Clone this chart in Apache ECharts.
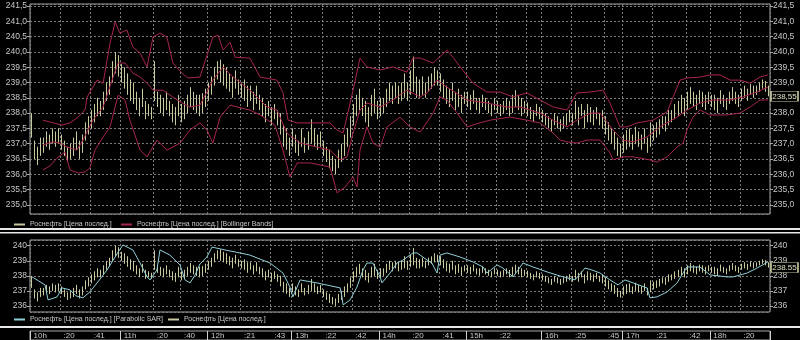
<!DOCTYPE html>
<html><head><meta charset="utf-8">
<script src="https://cdn.jsdelivr.net/npm/echarts@6/dist/echarts.min.js"></script>
<style>html,body{margin:0;padding:0;background:#000;}#c{width:800px;height:340px;}</style>
</head><body><div id="c"></div>
<script>
// ---- data ----
const barLow = [
237.2,236.5,236.3,236.6,236.7,236.9,236.8,237.0,236.9,237.0,
236.8,236.6,236.4,236.5,236.6,236.8,236.5,236.7,237.1,237.3,
237.5,237.7,237.9,237.9,238.1,238.4,238.6,239.0,239.3,239.2,
239.0,238.8,238.6,238.4,238.3,238.1,237.9,238.2,237.8,237.9,
237.8,238.4,238.2,238.0,237.9,238.1,237.9,237.7,237.6,237.9,
237.7,237.8,238.0,238.2,238.1,238.0,237.9,238.0,238.2,238.4,
238.6,238.9,239.1,239.0,238.9,238.8,238.7,238.5,238.8,238.6,
238.5,238.4,238.2,238.4,238.1,238.3,238.1,237.9,237.7,237.9,
237.6,237.8,237.6,237.3,236.9,236.8,236.6,236.9,236.7,236.6,
236.9,236.7,236.8,237.0,236.9,236.8,236.9,236.6,236.4,236.2,
236.1,236.0,236.2,236.4,236.6,236.9,237.2,237.6,237.9,238.1,
237.9,237.7,237.55,237.9,238.0,237.8,237.9,238.0,238.2,238.4,
238.3,238.5,238.3,238.4,238.5,238.4,238.6,238.7,238.5,238.5,
238.6,238.5,238.7,238.8,238.9,238.9,238.7,238.5,238.3,238.2,
238.4,238.1,238.2,238.0,238.3,238.2,238.1,238.3,238.1,238.0,
238.2,238.1,238.0,237.9,238.1,238.0,237.9,238.0,238.1,237.9,
238.0,238.2,238.1,237.9,238.0,237.9,237.8,237.7,237.9,237.8,
237.7,237.6,237.5,237.4,237.6,237.5,237.4,237.5,237.6,237.7,
237.6,237.8,237.6,237.9,237.5,237.7,237.7,237.6,237.8,237.6,
237.5,237.3,237.1,237.0,236.8,236.6,236.55,236.7,236.8,236.9,
236.8,237.0,236.9,236.8,237.0,236.7,236.9,237.1,237.2,237.3,
237.5,237.4,237.6,237.7,237.8,237.9,238.0,237.9,238.1,238.3,
238.2,238.1,238.3,238.2,238.1,238.3,238.2,238.1,238.0,238.3,
238.2,238.1,238.3,238.4,238.3,238.2,238.4,238.5,238.4,238.6,
238.5,238.6,238.7,238.8,238.7,238.55];
const barHigh = [
238.0,237.1,236.9,237.2,237.2,237.4,237.3,237.5,237.4,237.5,
237.3,237.1,236.9,237.0,237.2,237.4,237.1,237.3,237.7,237.9,
238.1,238.3,238.5,238.4,238.7,239.0,239.2,239.7,240.0,239.9,
239.6,239.5,239.3,239.1,239.0,238.7,238.5,238.8,238.4,238.3,
238.2,239.7,238.7,238.6,238.5,238.7,238.4,238.3,238.2,238.6,
238.3,238.4,238.6,238.85,238.7,238.6,238.6,238.65,238.8,239.0,
239.2,239.5,239.7,239.75,239.6,239.5,239.3,239.2,239.4,239.1,
239.0,239.1,238.9,238.9,238.7,238.9,238.6,238.5,238.3,238.4,
238.2,238.3,238.1,238.0,237.6,237.5,237.2,237.5,237.3,237.1,
237.5,237.2,237.4,237.8,237.5,237.3,237.4,237.1,236.9,236.8,
236.6,236.5,236.8,237.0,237.3,237.5,237.9,238.3,238.6,238.8,
238.5,238.4,238.2,238.6,238.8,238.4,238.5,238.5,238.8,239.0,
238.9,239.0,238.9,239.0,239.3,239.0,239.4,239.85,239.2,239.1,
239.2,239.0,239.2,239.3,239.5,239.4,239.3,239.1,238.9,238.8,
239.0,238.7,238.8,238.6,238.7,238.7,238.6,238.75,238.5,238.5,
238.6,238.5,238.4,238.3,238.5,238.4,238.3,238.4,238.5,238.4,
238.6,238.75,238.6,238.5,238.4,238.35,238.2,238.1,238.3,238.2,
238.1,238.0,237.9,237.8,238.0,237.9,237.8,237.9,238.0,238.1,
238.0,238.4,238.2,238.3,238.1,238.3,238.2,238.1,238.2,238.0,
238.1,237.9,237.7,237.5,237.4,237.2,237.0,237.3,237.45,237.5,
237.3,237.55,237.4,237.3,237.5,237.2,237.7,237.6,237.7,237.8,
237.9,237.9,238.1,238.1,238.3,238.4,238.6,238.5,238.7,238.85,
238.7,238.6,238.75,238.7,238.6,238.7,238.6,238.6,238.5,238.75,
238.6,238.5,238.7,238.85,238.7,238.6,238.8,238.9,238.8,238.95,
238.9,238.9,239.0,239.1,239.05,238.9];

// Bollinger bands: [bar position, price]
const bbUpper = [[4.3,237.77],[6.6,237.71],[10.6,237.61],[13.3,237.68],[16.0,237.87],[18.3,238.10],[19.0,238.53],[22.3,239.08],[24.3,238.98],[26.6,240.29],[28.3,240.98],[29.9,240.62],[32.2,240.72],[34.2,240.16],[36.6,239.96],[38.9,239.51],[40.9,240.49],[43.2,240.62],[45.5,240.49],[47.5,239.64],[50.5,239.31],[52.5,239.15],[56.5,239.18],[60.8,240.49],[62.5,240.55],[64.2,240.06],[66.5,240.32],[68.2,239.83],[73.1,239.80],[76.5,239.18],[82.1,239.08],[84.1,238.66],[85.8,237.77],[88.8,237.68],[96.4,237.68],[99.7,237.68],[102.1,237.45],[104.1,237.35],[107.4,238.75],[109.7,239.80],[112.0,239.51],[116.4,239.41],[120.7,239.51],[125.3,239.34],[127.3,239.80],[129.7,239.80],[134.0,239.64],[138.6,240.06],[140.6,239.83],[143.0,239.51],[147.3,238.98],[151.9,238.69],[156.3,238.69],[160.6,238.53],[165.2,238.66],[169.5,238.43],[173.9,238.20],[178.5,238.10],[181.8,238.66],[186.2,238.69],[190.5,238.75],[192.8,238.33],[196.1,237.55],[198.5,237.55],[201.8,237.68],[207.1,237.77],[211.8,238.04],[216.1,239.08],[218.4,239.15],[222.7,239.18],[226.1,239.25],[229.4,239.25],[232.7,239.08],[236.0,239.08],[239.4,238.98],[242.7,239.18],[245.3,239.25]];
const bbMiddle = [[4.3,236.96],[7.6,237.06],[10.0,237.02],[12.3,236.89],[15.6,236.79],[17.6,237.12],[20.9,237.77],[24.3,238.20],[27.3,239.08],[29.3,239.64],[31.6,239.64],[34.2,239.31],[36.6,239.18],[38.9,238.98],[40.9,238.75],[44.2,238.75],[47.5,238.53],[50.5,238.33],[53.2,238.20],[56.5,238.26],[60.8,239.08],[64.2,239.51],[67.5,239.18],[73.1,238.75],[78.8,238.20],[82.1,238.10],[85.4,237.35],[89.8,237.02],[95.4,236.89],[99.7,236.79],[103.1,236.47],[105.4,236.57],[107.4,237.35],[109.7,238.10],[112.0,238.33],[116.4,238.20],[120.7,238.43],[125.3,238.75],[129.7,238.53],[132.0,238.66],[135.3,239.08],[138.6,238.85],[145.3,238.43],[151.9,238.33],[158.6,238.20],[162.9,238.20],[169.5,238.00],[173.9,237.77],[178.5,237.55],[181.8,237.77],[186.2,238.00],[189.5,238.00],[193.8,237.45],[197.1,237.12],[200.5,237.06],[205.1,237.22],[209.4,237.55],[215.1,237.87],[218.4,238.10],[222.7,238.33],[227.1,238.43],[232.7,238.43],[237.0,238.53],[241.7,238.69],[245.3,238.85]];
const bbLower = [[4.3,236.14],[6.6,236.27],[9.0,236.53],[11.6,236.73],[13.3,236.14],[16.0,236.04],[18.3,236.08],[19.9,236.21],[21.6,236.79],[24.3,237.22],[26.6,237.55],[29.3,238.59],[31.6,238.43],[33.2,237.77],[36.6,236.79],[38.9,236.57],[42.2,237.12],[45.5,236.79],[49.9,237.02],[53.2,237.45],[56.5,237.68],[58.8,237.45],[60.8,237.02],[63.2,237.87],[66.5,238.26],[73.1,238.10],[76.5,237.94],[81.4,237.61],[84.1,236.79],[86.4,235.91],[88.8,236.37],[93.1,236.37],[99.7,236.24],[102.1,235.39],[104.7,235.58],[107.4,235.91],[108.7,235.58],[109.7,236.79],[112.0,237.55],[114.0,237.02],[116.4,236.89],[118.7,237.55],[123.0,237.87],[126.3,237.55],[129.7,237.38],[134.0,238.00],[136.3,238.53],[138.6,238.43],[142.0,238.00],[145.3,237.55],[149.6,237.68],[152.9,237.77],[159.6,237.87],[165.2,237.77],[169.5,237.68],[173.9,237.35],[176.2,237.12],[178.5,237.06],[181.8,237.02],[185.2,237.12],[189.5,237.12],[192.8,236.70],[193.8,236.47],[197.1,236.57],[200.5,236.57],[206.1,236.47],[208.4,236.40],[211.8,236.57],[215.1,236.89],[217.1,237.02],[218.4,237.45],[220.4,237.87],[222.7,238.10],[226.1,237.94],[231.7,237.94],[236.0,238.00],[239.4,238.20],[242.7,238.43],[245.3,238.43]];
// Parabolic SAR: [bar position, price]
const sar = [[0.7,237.93],[5.0,237.40],[6.0,236.40],[9.0,236.60],[10.6,237.20],[13.3,237.07],[15.3,236.67],[17.6,236.54],[19.9,236.93],[22.3,237.53],[25.6,238.39],[28.3,239.25],[29.3,239.58],[30.9,240.05],[34.2,239.72],[36.6,238.85],[38.9,237.93],[39.9,237.73],[42.2,238.39],[43.2,239.72],[46.5,239.38],[49.9,238.72],[51.5,237.73],[53.2,237.53],[54.9,238.06],[56.5,238.79],[58.8,239.25],[60.5,239.91],[64.8,239.72],[69.8,239.52],[73.1,239.38],[79.8,238.85],[84.1,238.19],[86.4,237.26],[87.4,236.60],[89.8,237.73],[95.4,237.53],[103.1,237.20],[103.7,236.60],[104.1,236.07],[106.4,236.40],[108.7,237.26],[110.7,238.39],[112.0,238.85],[114.0,238.85],[116.4,237.93],[117.0,237.53],[119.7,238.19],[122.0,238.85],[124.0,239.05],[127.3,239.52],[128.7,239.52],[132.0,239.05],[133.6,238.85],[135.3,238.19],[136.3,239.38],[138.6,239.52],[143.0,239.25],[147.3,238.92],[150.6,238.59],[151.9,238.19],[155.3,238.72],[157.2,238.52],[160.6,237.93],[163.9,238.85],[167.2,238.59],[171.9,238.26],[176.2,237.99],[181.2,237.73],[184.5,238.52],[186.8,238.39],[189.5,238.19],[192.8,237.73],[195.5,237.40],[197.8,237.73],[200.5,237.53],[205.1,237.20],[206.1,236.54],[208.4,236.60],[211.8,236.93],[215.1,237.53],[217.1,238.19],[218.4,238.59],[222.7,238.59],[226.1,238.06],[231.7,237.93],[233.7,237.93],[238.4,238.19],[241.7,238.52],[245.3,238.92]];
const lastPrice = 238.55;
// time axis ticks: bar index where tick sits, and its label
const tickIndex = [0,10,20,30,41,50,59,70,80,87,97,107,116,126,136,145,155,165,170,180,191,197,207,218,226,236];
const tickLabel = ['10h',':20',':41','11h',':20',':40','12h',':21',':43','13h',':22',':42','14h',':20',':41','15h',':22','','16h',':25',':45','17h',':21',':42','18h',':20'];
const seriesName = 'Роснефть [Цена послед.]';
const bbName = 'Роснефть [Цена послед.] [Bollinger Bands]';
const sarName = 'Роснефть [Цена послед.] [Parabolic SAR]';

// ---- build ----
const N = barLow.length;
const cats = [];
for (let i = 0; i < N; i++) { const k = tickIndex.indexOf(i); cats.push(k >= 0 ? tickLabel[k] : ''); }
const isTick = i => tickIndex.indexOf(i) >= 0;
const isHour = i => { const k = tickIndex.indexOf(i); return k >= 0 && /h$/.test(tickLabel[k]); };
const ohlc = barLow.map((l, i) => [l, barHigh[i], l, barHigh[i]]);

const KH = '#c9c9a0', BB = '#a8254f', SARC = '#8fd0d8', GRID = '#7a7a7a', FRAME = '#a8a8a8', TXT = '#c8c8c8';
const FONT = '"Liberation Sans",Arial,sans-serif';
const comma = v => v.toFixed(1).replace('.', ',');

function yAx(gi, pos, mn, mx, split, fmt, spl) {
  return { type: 'value', gridIndex: gi, position: pos, min: mn, max: mx, splitNumber: split, scale: true,
    axisLine: { show: false }, axisTick: { show: true, length: 3, lineStyle: { color: FRAME } },
    axisLabel: { color: TXT, fontSize: 8.5, fontFamily: FONT, margin: 3, formatter: fmt, showMinLabel: false, showMaxLabel: false },
    splitLine: { show: spl, lineStyle: { color: GRID, type: [2, 2], width: 1 } } };
}
function xCat(gi) {
  return { type: 'category', gridIndex: gi, data: cats, boundaryGap: true, axisLine: { show: false }, axisTick: { show: false }, axisLabel: { show: false },
    splitLine: { show: true, interval: isTick, lineStyle: { color: GRID, type: [2, 2], width: 1 } } };
}
function xVal(gi) { return { type: 'value', gridIndex: gi, min: 0, max: N, show: false }; }
function leg(left, top, name) {
  return { left: left, top: top, padding: 0, itemWidth: 11, itemHeight: 2, itemGap: 5, icon: 'rect', data: [name], selectedMode: false,
    itemStyle: { borderWidth: 0 },
    textStyle: { color: TXT, fontSize: 7, fontFamily: FONT, padding: [0, 0, 0, 0] } };
}

const chart = echarts.init(document.getElementById('c'), null, { renderer: 'canvas' });
chart.setOption({
  backgroundColor: '#000',
  animation: false,
  grid: [
    { left: 30, top: 4, width: 740, height: 210, show: true, borderColor: FRAME, borderWidth: 1 },
    { left: 30, top: 240, width: 740, height: 72, show: true, borderColor: FRAME, borderWidth: 1 },
    { left: 30, top: 331, width: 740, height: 9, show: true, borderColor: FRAME, borderWidth: 1 }
  ],
  xAxis: [
    xCat(0), xVal(0), xCat(1), xVal(1),
    { type: 'category', gridIndex: 2, data: cats, boundaryGap: true, position: 'top',
      axisLine: { show: false },
      axisTick: { show: true, interval: isTick, inside: true, length: 3, lineStyle: { color: '#d0d0d0' } },
      axisLabel: { show: true, interval: isTick, inside: true, margin: 0, align: 'left', verticalAlign: 'top', padding: [1, 0, 0, 2], color: TXT, fontSize: 8, fontFamily: FONT },
      splitLine: { show: true, interval: isHour, lineStyle: { color: '#d0d0d0', width: 1 } } }
  ],
  yAxis: [
    yAx(0, 'left', 234.7, 241.57, 14, comma, true),
    yAx(0, 'right', 234.7, 241.57, 14, comma, false),
    yAx(1, 'left', 235.6, 240.38, 5, v => String(Math.round(v)), true),
    yAx(1, 'right', 235.6, 240.38, 5, v => String(Math.round(v)), false),
    { type: 'value', gridIndex: 2, show: false }
  ],
  legend: [ leg(14, 221, seriesName), leg(121, 221, bbName), leg(14, 316, sarName), leg(168, 316, seriesName) ],
  graphic: [
    { type: 'rect', shape: { x: 0, y: 228, width: 800, height: 2 }, style: { fill: '#e8e8e8' } },
    { type: 'rect', shape: { x: 0, y: 232, width: 800, height: 1.5 }, style: { fill: '#e8e8e8' } },
    { type: 'rect', shape: { x: 0, y: 326, width: 800, height: 2 }, style: { fill: '#e8e8e8' } }
  ],
  series: [
    { name: seriesName, type: 'candlestick', xAxisIndex: 0, yAxisIndex: 0, data: ohlc, barWidth: 1,
      itemStyle: { color: KH, color0: KH, borderColor: KH, borderColor0: KH, borderWidth: 1 },
      markPoint: { silent: true, data: [{ coord: [N - 1, lastPrice], value: lastPrice }], symbol: 'rect', symbolSize: [27, 10], symbolOffset: [16, 0],
        itemStyle: { color: '#000', borderColor: KH, borderWidth: 1 },
        label: { show: true, color: '#e0e0c0', fontSize: 8, fontFamily: FONT, formatter: p => p.value.toFixed(2).replace('.', ',') } } },
    { name: bbName, type: 'line', xAxisIndex: 1, yAxisIndex: 0, data: bbUpper, showSymbol: false, symbol: 'none', lineStyle: { color: BB, width: 1 }, itemStyle: { color: BB }, z: 3 },
    { name: bbName, type: 'line', xAxisIndex: 1, yAxisIndex: 0, data: bbMiddle, showSymbol: false, symbol: 'none', lineStyle: { color: BB, width: 1 }, itemStyle: { color: BB }, z: 3 },
    { name: bbName, type: 'line', xAxisIndex: 1, yAxisIndex: 0, data: bbLower, showSymbol: false, symbol: 'none', lineStyle: { color: BB, width: 1 }, itemStyle: { color: BB }, z: 3 },
    { name: seriesName, type: 'candlestick', xAxisIndex: 2, yAxisIndex: 2, data: ohlc, barWidth: 1,
      itemStyle: { color: KH, color0: KH, borderColor: KH, borderColor0: KH, borderWidth: 1 },
      markPoint: { silent: true, data: [{ coord: [N - 1, lastPrice], value: lastPrice }], symbol: 'rect', symbolSize: [27, 10], symbolOffset: [16, 0],
        itemStyle: { color: '#000', borderColor: KH, borderWidth: 1 },
        label: { show: true, color: '#e0e0c0', fontSize: 8, fontFamily: FONT, formatter: p => p.value.toFixed(2) } } },
    { name: sarName, type: 'line', xAxisIndex: 3, yAxisIndex: 2, data: sar, showSymbol: false, symbol: 'none', lineStyle: { color: SARC, width: 1 }, itemStyle: { color: SARC }, z: 3 }
  ]
});
</script></body></html>
